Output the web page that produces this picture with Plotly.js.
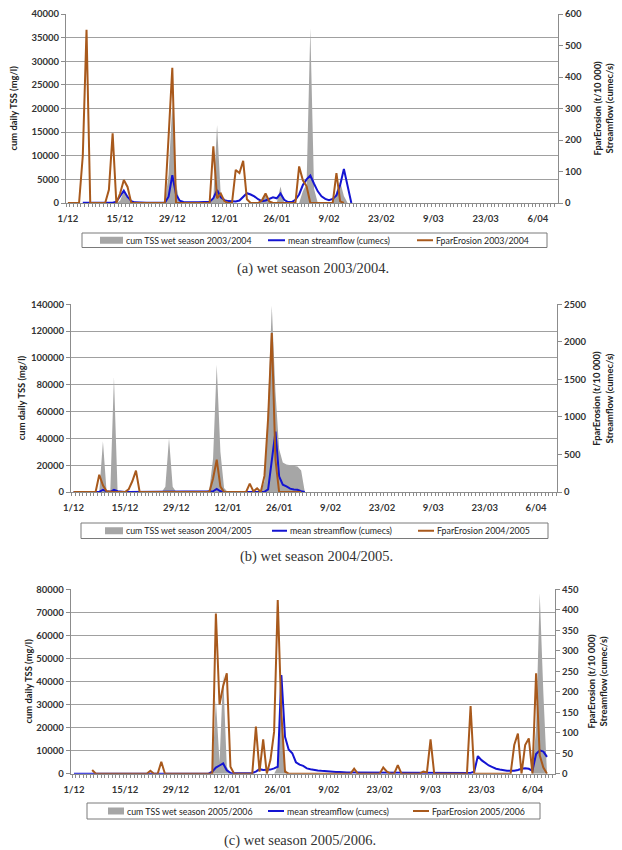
<!DOCTYPE html>
<html><head><meta charset="utf-8">
<script src="https://cdn.plot.ly/plotly-3.0.1.min.js"></script>
<style>html,body{margin:0;padding:0;background:#fff}#chart{width:622px;height:850px}</style>
</head><body><div id="chart"></div>
<script>
// ---- categories (day index from 1 December) and tick labels ----
const tickDays = [0, 14, 28, 42, 56, 70, 84, 98, 112, 126];
const tickLabels = ['1/12', '15/12', '29/12', '12/01', '26/01', '9/02', '23/02', '9/03', '23/03', '6/04'];

// ---- (a) wet season 2003/2004, days 0..76 ----
const tssA = [0,0,0,0,0,0,0,0,0,0, 0,0,0,0,500,2500,1000,0,0,0, 0,0,0,0,0,0,0,6000,21000,4000,
  0,0,0,0,0,0,0,0,0,1000, 16500,1500,0,0,0,0,0,0,0,0, 0,0,500,1700,300,0,0,3500,0,0,
  0,0,0,2500,4000,37000,3000,0,0,0, 0,0,2500,4500,1500,0,0];
const flowA = [null,null,null,null,1,1,1,1,1,1, 1,1,1,4,22,39,19,6,2,1, 1,1,1,1,1,1,1,20,88,27,
  7,3,2,2,2,2,2,2,4,15, 41,18,9,6,5,5,8,18,31,27, 21,12,6,8,13,18,15,30,10,3,
  3,10,27,57,75,87,61,37,21,13, 9,13,24,57,108,54,0];
const erosA = [0,0,0,0,150,550,0,0,0,0, 0,42,221,0,30,73,51,0,0,0, 0,0,0,0,0,0,0,210,429,0,
  0,0,0,0,0,0,0,0,0,180, 15,30,5,0,0,105,95,134,12,0, 0,0,8,30,5,0,0,0,0,0,
  0,0,116,72,53,0,0,0,0,0, 0,0,95,5,0,null,null];

// ---- (b) wet season 2004/2005, days 0..63 ----
const tssB = [0,0,0,0,0,0,0,0,37800,0, 0,85700,0,0,0,0,0,0,0,0, 0,0,0,0,0,4000,40000,4000,0,0,
  0,0,0,0,0,0,0,2000,25000,95000, 30000,3000,0,0,0,0,0,0,0,0,
  0,0,8000,65000,139000,75000,32000,22000,20500,20000, 20000,19000,16000,0];
const flowB = [1,1,1,1,1,1,1,2,30,10, 3,30,10,3,1,1,1,1,1,1, 1,1,1,1,1,1,1,1,1,1,
  1,1,1,1,1,1,1,3,10,40, 10,3,1,1,1,1,1,1,1,1,
  1,1,3,36,400,804,207,98,75,45, 34,30,11,0];
const erosB = [0,0,0,0,0,0,0,230,89,9, 0,0,0,0,0,36,143,284,0,0, 0,0,0,0,0,0,0,0,0,0,
  0,0,0,0,0,0,0,0,179,430, 71,0,0,0,0,0,0,0,111,9,
  48,0,214,982,2118,429,0,0,0,0, 0,0,0,null];

// ---- (c) wet season 2005/2006, days 0..130 ----
const tssC = [0,0,0,0,0,0,0,0,0,0, 0,0,0,0,0,0,0,0,0,0, 0,0,0,0,0,0,0,0,0,0,
  0,0,0,0,0,0,0,0,0,32000, 5000,43000,3000,0,0,0,0,0,0,0, 0,0,0,0,0,0,3000,30000,2000,0,
  0,0,0,0,0,0,0,0,0,0, 0,0,0,0,0,0,0,0,0,0, 0,0,0,0,0,0,0,0,0,0,
  0,0,0,0,0,0,0,0,0,0, 0,0,0,0,0,0,0,0,0,0, 0,0,0,0,0,0,0,0,0,0,
  0,0,0,0,0,0,0,20000,78300,35000, 0];
const flowC = [0,0,0,0,0,0,0,0,0,0, 0,0,0,0,0,0,0,0,0,0, 0,0,0,0,0,0,0,0,0,0,
  0,0,0,0,0,0,0,0,5,15, 20,25,8,2,1,1,1,1,1,2, 5,11,9,9,10,13,17,241,90,59,
  50,28,22,19,13,11,9,8,7,6, 5,4,4,4,3,3,3,3,3,3, 3,2,2,2,2,2,2,2,2,2,
  2,2,2,2,2,2,2,2,2,2, 2,2,2,2,2,2,2,2,2,2, 5,43,33,26,20,16,12,10,8,7,
  7,7,9,12,13,12,7,48,57,54, 41];
const erosC = [null,null,null,null,null,9,0,0,0,0, 0,0,0,0,0,0,0,0,0,0, 0,7,0,0,29,0,0,0,0,0,
  0,0,0,0,0,0,0,0,0,391, 169,214,245,17,0,0,0,0,0,0, 115,5,84,0,34,102,424,146,5,0,
  0,0,0,0,0,0,0,0,0,0, 0,0,0,0,0,0,0,12,0,0, 0,0,0,0,0,15,5,0,0,21,
  0,0,0,0,0,0,5,3,84,0, 0,0,0,0,0,0,0,0,0,165, 0,0,0,0,0,0,0,0,0,0,
  0,70,98,0,70,86,0,245,45,15, 0];

const seasons = ['2003/2004', '2004/2005', '2005/2006'];
const seriesNames = ['cum TSS wet season ', 'mean streamflow (cumecs)', 'FparErosion '];
const leftTitle = 'cum daily TSS (mg/l)';
const rightTitle = 'FparErosion (t/10 000)<br>Streamflow (cumec/s)';

// ---------------- drawing ----------------
const W = 622, H = 850;
const fx = v => v / W, fy = v => 1 - v / H;
const GRAY = '#a6a6a6', BLUE = '#1414d2', BROWN = '#a8591c';
const FONT = 'Lato, "Open Sans", sans-serif';
const idx = arr => arr.map((_, i) => i);

// layout geometry per panel (pixels)
const panels = [
  {tss: tssA, flow: flowA, eros: erosA, l: 66, r: 558, t: 14, b: 203, yl: 40000, dl: 5000, yr: 600, dr: 100,
   xr: [-0.5, 131.4], box: [82, 547, 233, 247.5], sym: [[100, 123], [268, 285], [417, 433]],
   ttl: [13, 603], cap: [313, 268], letter: 'a'},
  {tss: tssB, flow: flowB, eros: erosB, l: 71, r: 557, t: 304.3, b: 492, yl: 140000, dl: 20000, yr: 2500, dr: 500,
   xr: [-0.7, 131.7], box: [81, 548, 523, 538.5], sym: [[105, 123], [272, 287], [418, 434]],
   ttl: [21, 602.5], cap: [316, 556], letter: 'b'},
  {tss: tssC, flow: flowC, eros: erosC, l: 70.7, r: 555, t: 589.3, b: 773.7, yl: 80000, dl: 10000, yr: 450, dr: 50,
   xr: [-0.9, 132.2], box: [87, 540, 803, 819], sym: [[108, 124], [268, 284], [413, 429]],
   ttl: [28, 597], cap: [300, 840], letter: 'c'}
];

const traces = [];
const layout = {
  width: W, height: H, margin: {l: 0, r: 0, t: 0, b: 0},
  paper_bgcolor: '#fff', plot_bgcolor: 'rgba(0,0,0,0)', showlegend: false,
  font: {family: FONT, size: 9, color: '#222'},
  annotations: [], shapes: []
};

panels.forEach((p, k) => {
  const xn = k === 0 ? 'x' : 'x' + (k + 1);
  const yPrim = 'y' + (2 * k + 1 === 1 ? '' : (2 * k + 1));
  const ySec = 'y' + (2 * k + 2);
  const xKey = k === 0 ? 'xaxis' : 'xaxis' + (k + 1);
  const yPKey = 'yaxis' + (2 * k + 1 === 1 ? '' : (2 * k + 1));
  const ySKey = 'yaxis' + (2 * k + 2);
  const season = seasons[k];
  const names = [seriesNames[0] + season, seriesNames[1], seriesNames[2] + season];

  traces.push({type: 'scatter', mode: 'lines', x: idx(p.tss), y: p.tss, xaxis: xn, yaxis: yPrim,
    name: names[0], fill: 'tozeroy', fillcolor: GRAY, line: {width: 0, color: GRAY}, hoverinfo: 'skip'});
  traces.push({type: 'scatter', mode: 'lines', x: idx(p.flow), y: p.flow, xaxis: xn, yaxis: ySec,
    name: names[1], line: {width: 2, color: BLUE}, hoverinfo: 'skip'});
  traces.push({type: 'scatter', mode: 'lines', x: idx(p.eros), y: p.eros, xaxis: xn, yaxis: ySec,
    name: names[2], line: {width: 2, color: BROWN}, hoverinfo: 'skip'});

  layout[xKey] = {
    domain: [fx(p.l), fx(p.r)], anchor: yPrim, range: p.xr, fixedrange: true,
    tickmode: 'array', tickvals: tickDays, ticktext: tickLabels, ticks: '', ticklabelstandoff: 7,
    tickfont: {family: FONT, size: 9.5, color: '#333', weight: 'bold'},
    showline: true, linecolor: '#8c8c8c', linewidth: 1, showgrid: false, zeroline: false,
    minor: {ticks: 'outside', ticklen: 3, tickcolor: '#8c8c8c', tick0: 0.5, dtick: 1, showgrid: false}
  };
  layout[yPKey] = {
    domain: [fy(p.b), fy(p.t)], anchor: xn, range: [0, p.yl], dtick: p.dl, tick0: 0, tickformat: 'd',
    ticks: 'outside', ticklen: 4, tickcolor: '#8c8c8c',
    tickfont: {family: FONT, size: 9.5, color: '#333', weight: 'bold'},
    showline: true, linecolor: '#8c8c8c', linewidth: 1,
    showgrid: true, gridcolor: '#a0a0a0', gridwidth: 1, zeroline: false
  };
  layout[ySKey] = {
    overlaying: yPrim, side: 'right', anchor: xn, range: [0, p.yr], dtick: p.dr, tick0: 0, tickformat: 'd',
    ticks: 'outside', ticklen: 4, tickcolor: '#8c8c8c',
    tickfont: {family: FONT, size: 9.5, color: '#333', weight: 'bold'},
    showline: true, linecolor: '#8c8c8c', linewidth: 1, showgrid: false, zeroline: false
  };

  // axis titles
  const ym = (p.t + p.b) / 2;
  layout.annotations.push({xref: 'paper', yref: 'paper', x: fx(p.ttl[0]), y: fy(ym), xanchor: 'center', yanchor: 'middle',
    showarrow: false, textangle: -90, text: leftTitle,
    font: {family: FONT, size: 9.4, color: '#222', weight: 'bold'}});
  layout.annotations.push({xref: 'paper', yref: 'paper', x: fx(p.ttl[1]), y: fy(ym), xanchor: 'center', yanchor: 'middle',
    showarrow: false, textangle: -90, text: rightTitle,
    font: {family: FONT, size: 9.4, color: '#222', weight: 'bold'}});

  // legend (box, symbols, labels)
  const [bx0, bx1, by0, by1] = p.box;
  const yc = (by0 + by1) / 2;
  layout.shapes.push({type: 'rect', xref: 'paper', yref: 'paper', x0: fx(bx0), x1: fx(bx1), y0: fy(by1), y1: fy(by0),
    line: {color: '#7a7a7a', width: 1}, fillcolor: '#fff', layer: 'above'});
  layout.shapes.push({type: 'rect', xref: 'paper', yref: 'paper', x0: fx(p.sym[0][0]), x1: fx(p.sym[0][1]),
    y0: fy(yc + 3.5), y1: fy(yc - 3.5), line: {width: 0}, fillcolor: GRAY, layer: 'above'});
  layout.shapes.push({type: 'line', xref: 'paper', yref: 'paper', x0: fx(p.sym[1][0]), x1: fx(p.sym[1][1]),
    y0: fy(yc), y1: fy(yc), line: {width: 2, color: BLUE}, layer: 'above'});
  layout.shapes.push({type: 'line', xref: 'paper', yref: 'paper', x0: fx(p.sym[2][0]), x1: fx(p.sym[2][1]),
    y0: fy(yc), y1: fy(yc), line: {width: 2, color: BROWN}, layer: 'above'});
  names.forEach((nm, j) => {
    layout.annotations.push({xref: 'paper', yref: 'paper', x: fx(p.sym[j][1] + 1), y: fy(yc),
      xanchor: 'left', yanchor: 'middle', showarrow: false, text: nm,
      font: {family: FONT, size: 8.8, color: '#222'}});
  });

  layout.annotations.push({
    xref: 'paper', yref: 'paper', x: fx(p.cap[0]), y: fy(p.cap[1]), xanchor: 'center', yanchor: 'middle',
    showarrow: false, text: '(' + p.letter + ') wet season ' + season + '.',
    font: {family: '"Liberation Serif", "DejaVu Serif", serif', size: 14.5, color: '#333'}
  });
});

Plotly.newPlot('chart', traces, layout, {staticPlot: true, displayModeBar: false});
</script>
</body></html>
